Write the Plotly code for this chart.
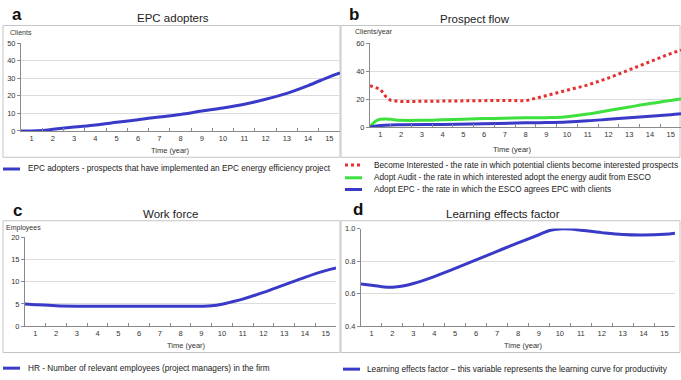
import plotly.graph_objects as go

W, H = 681, 380

# ---------------- data ----------------
years_a = [0.5, 1, 1.5, 2, 3, 4, 5, 6, 7, 8, 9, 10, 11, 12, 13, 14, 15, 15.5]
epc_adopters = [0, 0, 0.3, 0.9, 2.2, 3.4, 4.9, 6.4, 7.9, 9.4, 11.3, 13.1, 15.2, 18.0, 21.4, 25.8, 30.8, 33.0]

years_red = [0.5, 0.75, 1, 1.25, 1.5, 2, 3, 4, 5, 6, 7, 8, 8.5, 9, 10, 11, 12, 13, 14, 15, 15.5]
become_interested = [29.5, 28.5, 27, 22, 19, 18.2, 18.4, 18.8, 19, 19, 19, 18.7, 20.5, 22.5, 26, 30, 35, 41, 47, 52.5, 55]

years_green = [0.5, 0.75, 1, 1.25, 1.5, 2, 3, 4, 5, 6, 7, 8, 9, 9.5, 10, 11, 12, 13, 14, 15, 15.5]
adopt_audit = [0, 4, 5.5, 5.8, 5.5, 4.8, 4.8, 5.2, 5.6, 6.0, 6.3, 6.6, 6.7, 6.8, 7.4, 9.3, 11.8, 14.3, 16.8, 19.0, 20.0]

years_blue = [0.5, 1, 1.5, 2, 4, 6, 8, 9, 10, 11, 12, 13, 14, 15, 15.5]
adopt_epc = [0, 1.0, 1.5, 1.6, 1.8, 2.3, 3.0, 3.2, 3.6, 4.4, 5.5, 6.6, 7.7, 8.8, 9.5]

years_c = [0.5, 1, 2, 3, 4, 5, 6, 7, 8, 9, 9.5, 10, 10.5, 11, 12, 13, 14, 15, 15.5]
hr = [5.0, 4.85, 4.6, 4.5, 4.5, 4.5, 4.5, 4.5, 4.5, 4.5, 4.6, 4.95, 5.5, 6.1, 7.6, 9.3, 11.0, 12.5, 13.1]

years_d = [0.5, 1, 1.5, 2, 2.5, 3, 4, 5, 6, 7, 8, 9, 9.5, 10, 10.5, 11, 12, 13, 14, 15, 15.5]
learning = [0.66, 0.652, 0.643, 0.64, 0.647, 0.662, 0.705, 0.755, 0.807, 0.86, 0.912, 0.962, 0.988,
            0.998, 0.997, 0.99, 0.975, 0.963, 0.96, 0.965, 0.972]

x_ticks = list(range(1, 16))

BLUE = "#3a3ac8"
GREEN = "#3ee03e"
RED = "#e53030"
FONT = "Liberation Sans, Arial, sans-serif"


def xp(px):
    return px / W


def yp(py):
    return 1 - py / H


fig = go.Figure()

fig.add_trace(go.Scatter(x=years_a, y=epc_adopters, mode="lines", line=dict(color=BLUE, width=3, shape="spline"),
                         xaxis="x", yaxis="y", showlegend=False))
fig.add_trace(go.Scatter(x=years_red, y=become_interested, mode="lines",
                         line=dict(color=RED, width=3, dash="dot"), xaxis="x2", yaxis="y2", showlegend=False))
fig.add_trace(go.Scatter(x=years_green, y=adopt_audit, mode="lines",
                         line=dict(color=GREEN, width=3, shape="spline"), xaxis="x2", yaxis="y2", showlegend=False))
fig.add_trace(go.Scatter(x=years_blue, y=adopt_epc, mode="lines",
                         line=dict(color=BLUE, width=3, shape="spline"), xaxis="x2", yaxis="y2", showlegend=False))
fig.add_trace(go.Scatter(x=years_c, y=hr, mode="lines", line=dict(color=BLUE, width=3, shape="spline"),
                         xaxis="x3", yaxis="y3", showlegend=False))
fig.add_trace(go.Scatter(x=years_d, y=learning, mode="lines", line=dict(color=BLUE, width=3, shape="spline"),
                         xaxis="x4", yaxis="y4", showlegend=False))


def xaxis(domain, anchor):
    return dict(domain=domain, anchor=anchor, range=[0.5, 15.5], tickvals=x_ticks, ticks="",
                showgrid=False, zeroline=False, showline=True, linecolor="#8a8a8a", linewidth=1,
                tickfont=dict(size=7.5, color="#333", family=FONT),
                minor=dict(tickvals=[i + 0.5 for i in range(1, 15)], ticks="inside", ticklen=3,
                           tickcolor="#8a8a8a", showgrid=False),
                fixedrange=True)


def yaxis(domain, anchor, rng, dtick, fmt=None):
    d = dict(domain=domain, anchor=anchor, range=rng, dtick=dtick, tick0=rng[0], ticks="outside", ticklen=3,
             tickcolor="#8a8a8a", showgrid=True, gridcolor="#dcdcdc", gridwidth=1, zeroline=False,
             showline=True, linecolor="#8a8a8a", linewidth=1,
             tickfont=dict(size=7.5, color="#333", family=FONT), fixedrange=True)
    if fmt:
        d["tickformat"] = fmt
    return d


fig.update_layout(
    width=W, height=H, margin=dict(l=0, r=0, t=0, b=0),
    paper_bgcolor="white", plot_bgcolor="white",
    font=dict(family=FONT, color="#222"),
    xaxis=xaxis([xp(21), xp(340)], "y"),
    yaxis=yaxis([yp(130), yp(40)], "x", [0, 50], 10),
    xaxis2=xaxis([xp(370), 1.0], "y2"),
    yaxis2=yaxis([yp(126), yp(40)], "x2", [0, 60], 20),
    xaxis3=xaxis([xp(25), xp(336)], "y3"),
    yaxis3=yaxis([yp(330), yp(239)], "x3", [0, 20], 5),
    xaxis4=xaxis([xp(361), xp(675)], "y4"),
    yaxis4=yaxis([yp(330), yp(230)], "x4", [0.4, 1.0], 0.2, ".1f"),
)

shapes = []
# panel boxes
for (x0, x1, y0, y1) in [(3, 340, 22, 157), (341, 680, 22, 157), (3, 340, 222, 357), (341, 680, 222, 357)]:
    shapes.append(dict(type="rect", xref="paper", yref="paper", x0=xp(x0), x1=xp(x1), y0=yp(y1), y1=yp(y0),
                       line=dict(color="#c4c4c4", width=1), layer="below"))

# legend samples
legend_items = [
    (3, 20, 169, BLUE, None, 26, "EPC adopters - prospects that have implemented an EPC energy efficiency project"),
    (345, 362, 165, RED, "dot", 372, "Become Interested - the rate in which potential clients become interested prospects"),
    (345, 362, 178, GREEN, None, 372, "Adopt Audit - the rate in which interested adopt the energy audit from ESCO"),
    (345, 362, 190, BLUE, None, 372, "Adopt EPC - the rate in which the ESCO agrees EPC with clients"),
    (3, 20, 373, BLUE, None, 26, "HR - Number of relevant employees (project managers) in the firm"),
    (343, 360, 374, BLUE, None, 365, "Learning effects factor \u2013 this variable represents the learning curve for productivity"),
]
annotations = []
for (x0, x1, y, col, dash, tx, text) in legend_items:
    ln = dict(color=col, width=3)
    if dash:
        ln["dash"] = dash
    shapes.append(dict(type="line", xref="paper", yref="paper", x0=xp(x0), x1=xp(x1), y0=yp(y), y1=yp(y), line=ln))
    annotations.append(dict(xref="paper", yref="paper", x=xp(tx), y=yp(y), text=text, showarrow=False,
                            xanchor="left", yanchor="middle", font=dict(size=8.25, color="#222", family=FONT)))

# titles, panel letters, axis labels
for (x, y, text) in [(173, 14, "EPC adopters"), (475, 15, "Prospect flow"), (170, 215, "Work force"),
                     (503, 215, "Learning effects factor")]:
    annotations.append(dict(xref="paper", yref="paper", x=xp(x), y=yp(y), text=text, showarrow=False,
                            xanchor="center", yanchor="middle", font=dict(size=11.5, color="#222", family=FONT)))
for (x, y, text) in [(17, 11, "a"), (354, 11, "b"), (17, 212, "c"), (358, 210, "d")]:
    annotations.append(dict(xref="paper", yref="paper", x=xp(x), y=yp(y), text="<b>" + text + "</b>",
                            showarrow=False, xanchor="center", yanchor="middle",
                            font=dict(size=17, color="#111", family=FONT)))
for (x, y, text) in [(8, 29, "Clients"), (353, 29, "Clients/year"), (4, 229, "Employees")]:
    annotations.append(dict(xref="paper", yref="paper", x=xp(x), y=yp(y), text=text, showarrow=False,
                            xanchor="left", yanchor="middle", font=dict(size=7, color="#333", family=FONT)))
for (x, y) in [(170, 150), (512, 149), (186, 350), (523, 350)]:
    annotations.append(dict(xref="paper", yref="paper", x=xp(x), y=yp(y), text="Time (year)", showarrow=False,
                            xanchor="center", yanchor="middle", font=dict(size=7.5, color="#333", family=FONT)))

fig.update_layout(shapes=shapes, annotations=annotations)

fig.write_html("out.html")
